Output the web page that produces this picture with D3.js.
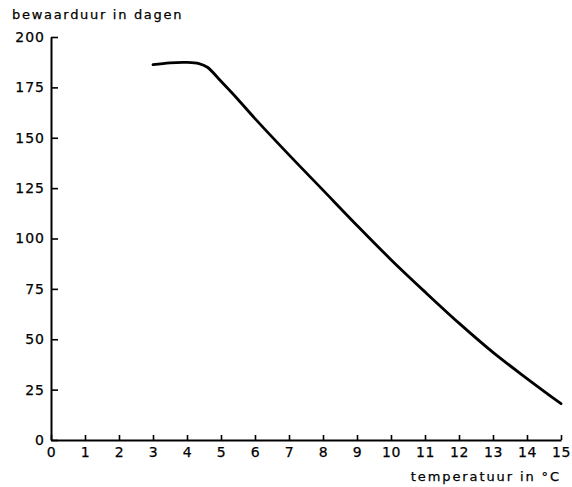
<!DOCTYPE html>
<html>
<head>
<meta charset="utf-8">
<script src="https://cdn.jsdelivr.net/npm/d3@7"></script>
<style>
  body { margin: 0; background: #fff; }
  text { font-family: "DejaVu Sans", sans-serif; fill: #000; stroke: #000; stroke-width: 0.25px; }
</style>
</head>
<body>
<svg id="chart" width="572" height="487"></svg>
<script>
// temperatuur (°C) vs bewaarduur (dagen)
var temps = [3, 3.5, 4, 4.35, 4.6, 5, 5.5, 6, 7, 8, 9, 10, 11, 12, 13, 14, 15];
var days  = [186.3, 187.2, 187.4, 186.8, 185, 178, 169, 159.5, 141.5, 124, 106.5, 89.5, 73.5, 58, 43.5, 30.5, 18];
var xTicks = [0, 1, 2, 3, 4, 5, 6, 7, 8, 9, 10, 11, 12, 13, 14, 15];
var yTicks = [0, 25, 50, 75, 100, 125, 150, 175, 200];

var svg = d3.select("#chart");

var x = d3.scaleLinear().domain([0, 15]).range([51, 561]);
var y = d3.scaleLinear().domain([0, 200]).range([440, 37]);

// y axis, ticks pointing inward
var yAxis = svg.append("g")
    .attr("transform", "translate(51,0)")
    .call(d3.axisLeft(y).tickValues(yTicks).tickSizeInner(-7).tickSizeOuter(0).tickPadding(6));
yAxis.select(".domain").attr("stroke", "#000").attr("stroke-width", 2);
yAxis.selectAll(".tick line").attr("stroke", "#000").attr("stroke-width", 1.6);
yAxis.selectAll(".tick text")
    .style("font-size", "14px")
    .style("letter-spacing", "1px");

// x axis
var xAxis = svg.append("g")
    .attr("transform", "translate(0,440)")
    .call(d3.axisBottom(x).tickValues(xTicks).tickSizeInner(-5).tickSizeOuter(0).tickPadding(7));
xAxis.select(".domain").attr("stroke", "#000").attr("stroke-width", 2);
xAxis.selectAll(".tick line").attr("stroke", "#000").attr("stroke-width", 1.6);
xAxis.selectAll(".tick text")
    .style("font-size", "14px")
    .style("letter-spacing", "0.5px");

// the curve
var pts = temps.map(function(t, i) { return [t, days[i]]; });
var line = d3.line()
    .x(function(d) { return x(d[0]); })
    .y(function(d) { return y(d[1]); })
    .curve(d3.curveCatmullRom.alpha(0.5));

svg.append("path")
    .datum(pts)
    .attr("d", line)
    .attr("fill", "none")
    .attr("stroke", "#000")
    .attr("stroke-width", 2.8)
    .attr("stroke-linecap", "round");

// axis titles
svg.append("text")
    .attr("x", 12)
    .attr("y", 19)
    .style("font-size", "13px")
    .style("letter-spacing", "1.7px")
    .text("bewaarduur in dagen");

svg.append("text")
    .attr("x", 561)
    .attr("y", 481)
    .attr("text-anchor", "end")
    .style("font-size", "13px")
    .style("letter-spacing", "1.9px")
    .text("temperatuur in °C");
</script>
</body>
</html>
